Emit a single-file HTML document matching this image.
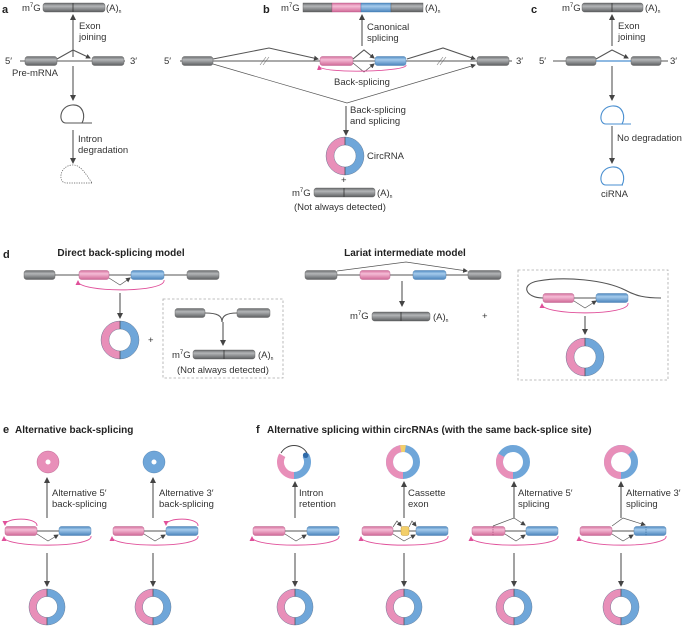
<!DOCTYPE html>
<html><head><meta charset="utf-8"><style>
html,body{margin:0;padding:0;background:#fff}
svg{display:block}
text{font-family:"Liberation Sans",sans-serif;font-size:9.5px;fill:#333}
.b{font-weight:bold;font-size:10px;fill:#222}
.L{font-weight:bold;font-size:11px;fill:#222}
.ln{stroke:#555;stroke-width:1.1;fill:none}
.th{stroke:#555;stroke-width:0.7;fill:none}
.mg{stroke:#e0509a;stroke-width:0.9;fill:none}
.gy{fill:url(#gg);stroke:#555;stroke-width:0.4}
.pk{fill:url(#gp);stroke:#b05080;stroke-width:0.4}
.bl{fill:url(#gb);stroke:#3f75a8;stroke-width:0.4}
.yl{fill:#f3cf6a;stroke:#b89030;stroke-width:0.4}
.box{fill:none;stroke:#aaa;stroke-width:0.8;stroke-dasharray:2.5,2}
</style></head><body>
<svg width="685" height="627" viewBox="0 0 685 627" xmlns="http://www.w3.org/2000/svg">
<defs>
<linearGradient id="gg" x1="0" y1="0" x2="0" y2="1"><stop offset="0" stop-color="#6a6c6e"/><stop offset="0.35" stop-color="#b3b5b7"/><stop offset="1" stop-color="#5d5f61"/></linearGradient>
<linearGradient id="gp" x1="0" y1="0" x2="0" y2="1"><stop offset="0" stop-color="#d46e9c"/><stop offset="0.35" stop-color="#f5bcd6"/><stop offset="1" stop-color="#d06896"/></linearGradient>
<linearGradient id="gb" x1="0" y1="0" x2="0" y2="1"><stop offset="0" stop-color="#4d88c0"/><stop offset="0.35" stop-color="#a5cbec"/><stop offset="1" stop-color="#4a84bc"/></linearGradient>
<marker id="ar" markerWidth="6" markerHeight="6" refX="5" refY="3" orient="auto" markerUnits="userSpaceOnUse"><path d="M0,0 L6,3 L0,6 z" fill="#444"/></marker>
<marker id="as" markerWidth="5" markerHeight="5" refX="4" refY="2.5" orient="auto" markerUnits="userSpaceOnUse"><path d="M0,0 L5,2.5 L0,5 z" fill="#444"/></marker>
<marker id="am" markerWidth="5" markerHeight="5" refX="4" refY="2.5" orient="auto" markerUnits="userSpaceOnUse"><path d="M0,0 L5,2.5 L0,5 z" fill="#e0509a"/></marker>
<g id="ring">
<circle cx="0" cy="0" r="15" fill="none" stroke="#6fa6d9" stroke-width="8"/>
<path d="M0,-15 A15,15 0 0 0 0,15" fill="none" stroke="#e88fb9" stroke-width="8"/>
<circle cx="0" cy="0" r="19" fill="none" stroke="#5a6f88" stroke-width="0.4"/>
<circle cx="0" cy="0" r="11" fill="none" stroke="#5a6f88" stroke-width="0.4"/>
<line x1="0" y1="-19" x2="0" y2="-11" stroke="#444" stroke-width="0.7"/>
<line x1="0" y1="19" x2="0" y2="11" stroke="#444" stroke-width="0.7"/>
</g>
</defs>

<!-- ===== Panel a ===== -->
<text x="2" y="13" class="L">a</text>
<text x="22" y="11">m<tspan font-size="6" dy="-4">7</tspan><tspan dy="4">G</tspan></text>
<rect x="43" y="3" width="62" height="9" rx="2.5" class="gy"/><line x1="73" y1="3" x2="73" y2="12" stroke="#333" stroke-width="0.8"/>
<text x="106" y="11">(A)<tspan font-size="5" dy="2">n</tspan></text>
<line x1="73" y1="57" x2="73" y2="15" class="ln" marker-end="url(#ar)"/>
<text x="79" y="29">Exon</text><text x="79" y="40">joining</text>
<line x1="20" y1="61" x2="125" y2="61" class="ln"/>
<text x="5" y="64">5′</text><text x="130" y="64">3′</text>
<rect x="25" y="56.5" width="32" height="9" rx="2.5" class="gy"/>
<rect x="92" y="56.5" width="32" height="9" rx="2.5" class="gy"/>
<path d="M57,59 L73,50 L90,58" class="ln" marker-end="url(#as)"/>
<text x="12" y="76">Pre-mRNA</text>
<line x1="73" y1="66" x2="73" y2="100" class="ln" marker-end="url(#ar)"/>
<path d="M92,123 L66,123 C58,123 59,106 72,105 C83,104 86,116 82,123" class="ln"/>
<text x="78" y="142">Intron</text><text x="78" y="153">degradation</text>
<line x1="73" y1="130" x2="73" y2="163" class="ln" marker-end="url(#ar)"/>
<path d="M92,183 L66,183 C58,183 59,166 72,165 C80,164 86,174 92,183" class="th" stroke-dasharray="1.2,1.2" stroke-width="1"/>

<!-- ===== Panel b ===== -->
<text x="263" y="13" class="L">b</text>
<text x="281" y="11">m<tspan font-size="6" dy="-4">7</tspan><tspan dy="4">G</tspan></text>
<rect x="303" y="3" width="29" height="9" class="gy"/>
<rect x="332" y="3" width="29" height="9" class="pk"/>
<rect x="361" y="3" width="30" height="9" class="bl"/>
<rect x="391" y="3" width="32" height="9" class="gy"/>
<text x="425" y="11">(A)<tspan font-size="5" dy="2">n</tspan></text>
<line x1="362" y1="46" x2="362" y2="15" class="ln" marker-end="url(#ar)"/>
<text x="367" y="30">Canonical</text><text x="367" y="41">splicing</text>
<line x1="180" y1="61" x2="512" y2="61" class="ln"/>
<text x="164" y="64">5′</text><text x="516" y="64">3′</text>
<rect x="182" y="56.5" width="31" height="9" rx="2.5" class="gy"/>
<rect x="320" y="56.5" width="33" height="9" rx="2.5" class="pk"/>
<rect x="375" y="56.5" width="31" height="9" rx="2.5" class="bl"/>
<rect x="477" y="56.5" width="32" height="9" rx="2.5" class="gy"/>
<path d="M260,65 L266,57 M263,65 L269,57" stroke="#777" stroke-width="0.6"/>
<path d="M437,65 L443,57 M440,65 L446,57" stroke="#777" stroke-width="0.6"/>
<path d="M213,59 L269,48 L318,59" class="ln" marker-end="url(#as)"/>
<path d="M407,59 L443,48 L475,59" class="ln" marker-end="url(#as)"/>
<path d="M353,59 L364,50 L374,58" class="ln" marker-end="url(#as)"/>
<path d="M353,63 L364,72 L374,64" class="th" marker-end="url(#as)"/>
<path d="M406,65 C408,72 320,74 319,66" class="mg" marker-end="url(#am)"/>
<text x="334" y="85">Back-splicing</text>
<path d="M213,64 L347,103 L475,65" class="th" marker-end="url(#as)"/>
<line x1="346" y1="106" x2="346" y2="135" class="ln" marker-end="url(#ar)"/>
<text x="350" y="113">Back-splicing</text><text x="350" y="124">and splicing</text>
<use href="#ring" transform="translate(345,156)"/>
<text x="367" y="159">CircRNA</text>
<text x="341" y="183">+</text>
<text x="292" y="196">m<tspan font-size="6" dy="-4">7</tspan><tspan dy="4">G</tspan></text>
<rect x="314" y="188" width="61" height="9" rx="2.5" class="gy"/><line x1="344" y1="188" x2="344" y2="197" stroke="#333" stroke-width="0.8"/>
<text x="377" y="196">(A)<tspan font-size="5" dy="2">n</tspan></text>
<text x="294" y="210">(Not always detected)</text>

<!-- ===== Panel c ===== -->
<text x="531" y="13" class="L">c</text>
<text x="562" y="11">m<tspan font-size="6" dy="-4">7</tspan><tspan dy="4">G</tspan></text>
<rect x="582" y="3" width="61" height="9" rx="2.5" class="gy"/><line x1="612" y1="3" x2="612" y2="12" stroke="#333" stroke-width="0.8"/>
<text x="645" y="11">(A)<tspan font-size="5" dy="2">n</tspan></text>
<line x1="612" y1="46" x2="612" y2="15" class="ln" marker-end="url(#ar)"/>
<text x="618" y="29">Exon</text><text x="618" y="40">joining</text>
<line x1="553" y1="61" x2="668" y2="61" class="ln"/>
<line x1="596" y1="61" x2="631" y2="61" stroke="#4a8fd0" stroke-width="1.2"/>
<text x="539" y="64">5′</text><text x="670" y="64">3′</text>
<rect x="566" y="56.5" width="30" height="9" rx="2.5" class="gy"/>
<rect x="631" y="56.5" width="30" height="9" rx="2.5" class="gy"/>
<path d="M596,59 L612,50 L628,58" class="ln" marker-end="url(#as)"/>
<line x1="612" y1="66" x2="612" y2="100" class="ln" marker-end="url(#ar)"/>
<path d="M631,124 L606,124 C598,124 599,107 612,106 C623,105 626,117 622,124" fill="none" stroke="#4a8fd0" stroke-width="1.1"/>
<text x="617" y="141">No degradation</text>
<line x1="612" y1="126" x2="612" y2="163" class="ln" marker-end="url(#ar)"/>
<path d="M623,185 L606,185 C598,185 599,168 612,167 C623,166 626,178 622,185" fill="none" stroke="#4a8fd0" stroke-width="1.1"/>
<text x="601" y="197">ciRNA</text>

<!-- ===== Panel d ===== -->
<text x="3" y="258" class="L">d</text>
<text x="121" y="256" class="b" text-anchor="middle">Direct back-splicing model</text>
<text x="405" y="256" class="b" text-anchor="middle">Lariat intermediate model</text>
<line x1="55" y1="275" x2="187" y2="275" class="ln"/>
<rect x="24" y="270.5" width="31" height="9" rx="2.5" class="gy"/>
<rect x="79" y="270.5" width="30" height="9" rx="2.5" class="pk"/>
<rect x="131" y="270.5" width="33" height="9" rx="2.5" class="bl"/>
<rect x="187" y="270.5" width="32" height="9" rx="2.5" class="gy"/>
<path d="M109,278 L120,285 L130,278" class="th" marker-end="url(#as)"/>
<path d="M164,280 C167,293 78,293 78,281" class="mg" marker-end="url(#am)"/>
<line x1="120" y1="293" x2="120" y2="318" class="ln" marker-end="url(#ar)"/>
<use href="#ring" transform="translate(120,340)"/>
<text x="148" y="343" font-size="8">+</text>
<rect x="163" y="299" width="120" height="79" class="box"/>
<rect x="175" y="308.5" width="30" height="9" rx="2.5" class="gy"/>
<rect x="237" y="308.5" width="33" height="9" rx="2.5" class="gy"/>
<path d="M205,313 C218,313 222,316 222,322 C222,316 226,313 237,313" class="ln"/>
<line x1="223" y1="322" x2="223" y2="345" class="ln" marker-end="url(#ar)"/>
<text x="172" y="358">m<tspan font-size="6" dy="-4">7</tspan><tspan dy="4">G</tspan></text>
<rect x="193" y="350" width="62" height="9" rx="2.5" class="gy"/><line x1="224" y1="350" x2="224" y2="359" stroke="#333" stroke-width="0.8"/>
<text x="258" y="358">(A)<tspan font-size="5" dy="2">n</tspan></text>
<text x="177" y="373">(Not always detected)</text>

<line x1="337" y1="275" x2="468" y2="275" class="ln"/>
<rect x="305" y="270.5" width="32" height="9" rx="2.5" class="gy"/>
<rect x="360" y="270.5" width="30" height="9" rx="2.5" class="pk"/>
<rect x="413" y="270.5" width="33" height="9" rx="2.5" class="bl"/>
<rect x="468" y="270.5" width="33" height="9" rx="2.5" class="gy"/>
<path d="M337,271 L406,262 L467,271" class="th" marker-end="url(#as)"/>
<line x1="402" y1="281" x2="402" y2="306" class="ln" marker-end="url(#ar)"/>
<text x="350" y="319">m<tspan font-size="6" dy="-4">7</tspan><tspan dy="4">G</tspan></text>
<rect x="372" y="312" width="58" height="9" rx="2.5" class="gy"/><line x1="401" y1="312" x2="401" y2="321" stroke="#333" stroke-width="0.8"/>
<text x="433" y="320">(A)<tspan font-size="5" dy="2">n</tspan></text>
<text x="482" y="319" font-size="8">+</text>
<rect x="518" y="270" width="150" height="110" class="box"/>
<path d="M543,298 C525,298 520,284 538,281 C565,276 605,280 625,290 C636,296 645,298 661,298" class="ln"/>
<line x1="574" y1="298" x2="596" y2="298" class="ln"/>
<rect x="543" y="293.5" width="31" height="9" rx="2.5" class="pk"/>
<rect x="596" y="293.5" width="32" height="9" rx="2.5" class="bl"/>
<path d="M574,301 L585,308 L596,301" class="th" marker-end="url(#as)"/>
<path d="M628,303 C631,316 542,316 542,304" class="mg" marker-end="url(#am)"/>
<line x1="585" y1="316" x2="585" y2="334" class="ln" marker-end="url(#ar)"/>
<use href="#ring" transform="translate(585,357)"/>

<!-- ===== Panel e ===== -->
<text x="3" y="433" class="L">e</text>
<text x="15" y="433" class="b">Alternative back-splicing</text>
<text x="256" y="433" class="L">f</text>
<text x="267" y="433" class="b">Alternative splicing within circRNAs (with the same back-splice site)</text>

<circle cx="48" cy="462" r="6.75" fill="none" stroke="#e88fb9" stroke-width="8.5"/>
<circle cx="48" cy="462" r="11" fill="none" stroke="#b05080" stroke-width="0.4"/>
<circle cx="154" cy="462" r="6.75" fill="none" stroke="#6fa6d9" stroke-width="8.5"/>
<circle cx="154" cy="462" r="11" fill="none" stroke="#3f75a8" stroke-width="0.4"/>
<line x1="47" y1="518" x2="47" y2="478" class="ln" marker-end="url(#ar)"/>
<line x1="153" y1="518" x2="153" y2="478" class="ln" marker-end="url(#ar)"/>
<text x="52" y="496">Alternative 5′</text><text x="52" y="507">back-splicing</text>
<text x="159" y="496">Alternative 3′</text><text x="159" y="507">back-splicing</text>

<line x1="37" y1="531" x2="59" y2="531" class="ln"/>
<rect x="5" y="526.5" width="32" height="9" rx="2.5" class="pk"/>
<rect x="59" y="526.5" width="32" height="9" rx="2.5" class="bl"/>
<path d="M37,534 L48,541 L58,535" class="th" marker-end="url(#as)"/>
<path d="M37,526 C38,517 5,517 5,525" class="mg" marker-end="url(#am)"/>
<path d="M91,536 C94,548 4,548 4,537" class="mg" marker-end="url(#am)"/>

<line x1="144" y1="531" x2="166" y2="531" class="ln"/>
<rect x="113" y="526.5" width="31" height="9" rx="2.5" class="pk"/>
<rect x="166" y="526.5" width="32" height="9" rx="2.5" class="bl"/>
<path d="M144,534 L155,541 L165,535" class="th" marker-end="url(#as)"/>
<path d="M198,526 C199,517 166,517 166,525" class="mg" marker-end="url(#am)"/>
<path d="M198,536 C201,548 112,548 112,537" class="mg" marker-end="url(#am)"/>

<!-- f rows -->
<line x1="285" y1="531" x2="307" y2="531" class="ln"/>
<rect x="253" y="526.5" width="32" height="9" rx="2.5" class="pk"/>
<rect x="307" y="526.5" width="32" height="9" rx="2.5" class="bl"/>
<path d="M285,534 L296,541 L306,535" class="th" marker-end="url(#as)"/>
<path d="M339,536 C342,548 252,548 252,537" class="mg" marker-end="url(#am)"/>

<line x1="393" y1="531" x2="416" y2="531" class="ln"/>
<rect x="362" y="526.5" width="31" height="9" rx="2.5" class="pk"/>
<rect x="401" y="526.5" width="8" height="9" rx="2" class="yl"/>
<rect x="416" y="526.5" width="32" height="9" rx="2.5" class="bl"/>
<path d="M393,527 L397,521 L401,526" class="th" marker-end="url(#as)"/>
<path d="M409,527 L412,521 L416,526" class="th" marker-end="url(#as)"/>
<path d="M393,534 L404,541 L415,535" class="th" marker-end="url(#as)"/>
<path d="M448,536 C451,548 361,548 361,537" class="mg" marker-end="url(#am)"/>

<line x1="505" y1="531" x2="526" y2="531" class="ln"/>
<rect x="472" y="526.5" width="33" height="9" rx="2.5" class="pk"/>
<line x1="493" y1="526.5" x2="493" y2="535.5" stroke="#a04070" stroke-width="0.6" stroke-dasharray="1.5,1"/>
<rect x="526" y="526.5" width="32" height="9" rx="2.5" class="bl"/>
<path d="M493,526 L514,518 L525,525" class="th" marker-end="url(#as)"/>
<path d="M505,534 L516,541 L525,535" class="th" marker-end="url(#as)"/>
<path d="M558,536 C561,548 471,548 471,537" class="mg" marker-end="url(#am)"/>

<line x1="612" y1="531" x2="634" y2="531" class="ln"/>
<rect x="580" y="526.5" width="32" height="9" rx="2.5" class="pk"/>
<rect x="634" y="526.5" width="32" height="9" rx="2.5" class="bl"/>
<line x1="646" y1="526.5" x2="646" y2="535.5" stroke="#2f6598" stroke-width="0.6" stroke-dasharray="1.5,1"/>
<path d="M612,526 L623,518 L645,525" class="th" marker-end="url(#as)"/>
<path d="M612,534 L623,541 L633,535" class="th" marker-end="url(#as)"/>
<path d="M666,536 C669,548 579,548 579,537" class="mg" marker-end="url(#am)"/>

<line x1="295" y1="518" x2="295" y2="482" class="ln" marker-end="url(#ar)"/>
<line x1="404" y1="518" x2="404" y2="482" class="ln" marker-end="url(#ar)"/>
<line x1="514" y1="518" x2="514" y2="482" class="ln" marker-end="url(#ar)"/>
<line x1="621" y1="518" x2="621" y2="482" class="ln" marker-end="url(#ar)"/>
<text x="299" y="496">Intron</text><text x="299" y="507">retention</text>
<text x="408" y="496">Cassette</text><text x="408" y="507">exon</text>
<text x="518" y="496">Alternative 5′</text><text x="518" y="507">splicing</text>
<text x="626" y="496">Alternative 3′</text><text x="626" y="507">splicing</text>

<!-- f top rings -->
<g transform="translate(294,462)">
<path d="M-11.7,-6.75 A13.5,13.5 0 0 0 0,13.5" fill="none" stroke="#e88fb9" stroke-width="7"/>
<path d="M0,13.5 A13.5,13.5 0 0 0 11.7,-6.75" fill="none" stroke="#6fa6d9" stroke-width="7"/>
<path d="M-13,-9 A15,15 0 0 1 13,-9" fill="none" stroke="#444" stroke-width="1"/>
<circle cx="11.7" cy="-6.75" r="2.8" fill="#2f6aa8"/>
</g>
<g transform="translate(403,462)">
<circle r="13.5" fill="none" stroke="#6fa6d9" stroke-width="7"/>
<path d="M0,-13.5 A13.5,13.5 0 0 0 0,13.5" fill="none" stroke="#e88fb9" stroke-width="7"/>
<path d="M-2.34,-13.3 A13.5,13.5 0 0 1 2.34,-13.3" fill="none" stroke="#f3cf6a" stroke-width="7"/>
</g>
<g transform="translate(513,462)">
<circle r="13.5" fill="none" stroke="#6fa6d9" stroke-width="7"/>
<path d="M-11.7,-6.75 A13.5,13.5 0 0 0 0,13.5" fill="none" stroke="#e88fb9" stroke-width="7"/>
</g>
<g transform="translate(621,462)">
<circle r="13.5" fill="none" stroke="#6fa6d9" stroke-width="7"/>
<path d="M0,13.5 A13.5,13.5 0 1 1 9.55,-9.55" fill="none" stroke="#e88fb9" stroke-width="7"/>
</g>

<!-- bottom arrows and rings -->
<g class="ln" marker-end="url(#ar)">
<line x1="47" y1="553" x2="47" y2="586"/>
<line x1="153" y1="553" x2="153" y2="586"/>
<line x1="295" y1="553" x2="295" y2="586"/>
<line x1="404" y1="553" x2="404" y2="586"/>
<line x1="514" y1="553" x2="514" y2="586"/>
<line x1="621" y1="553" x2="621" y2="586"/>
</g>
<use href="#ring" transform="translate(47,607) scale(0.95)"/>
<use href="#ring" transform="translate(153,607) scale(0.95)"/>
<use href="#ring" transform="translate(295,607) scale(0.95)"/>
<use href="#ring" transform="translate(404,607) scale(0.95)"/>
<use href="#ring" transform="translate(514,607) scale(0.95)"/>
<use href="#ring" transform="translate(621,607) scale(0.95)"/>
</svg>
</body></html>
